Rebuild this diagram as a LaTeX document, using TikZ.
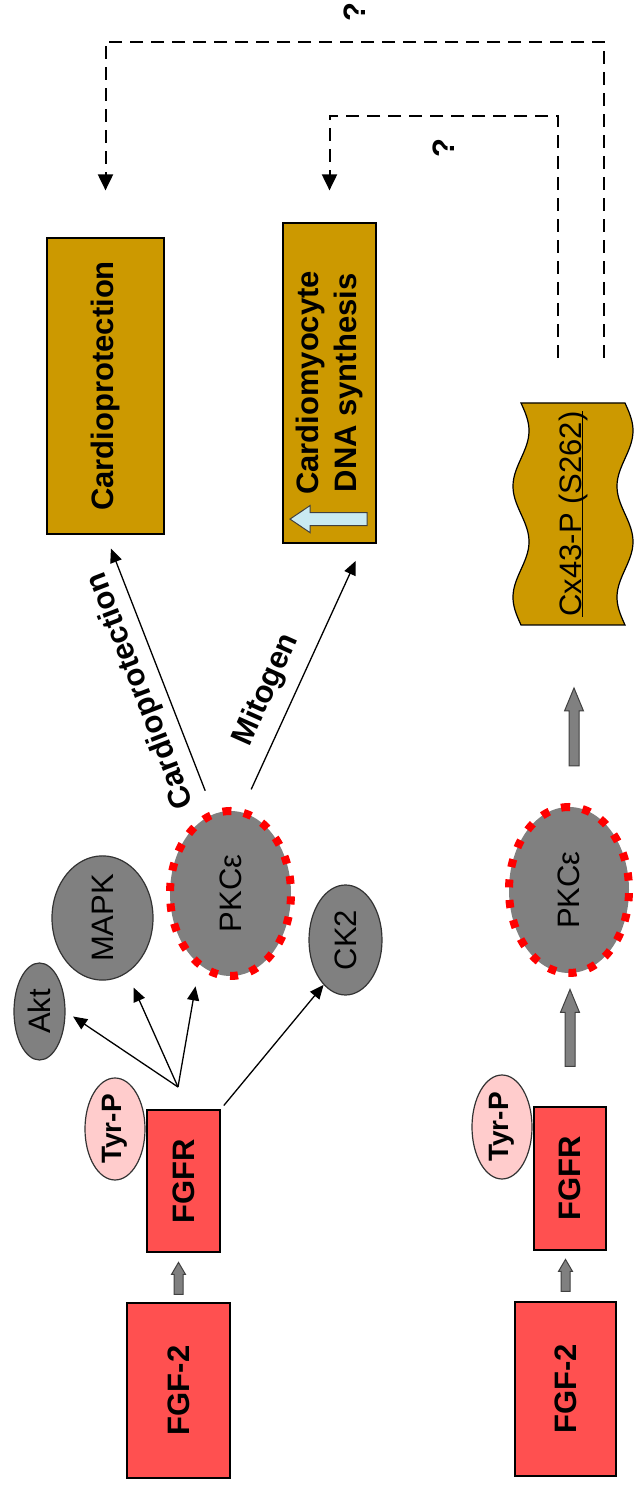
\documentclass[tikz,border=0pt]{standalone}
\usepackage{fontspec}
\setmainfont{Liberation Sans}
\usetikzlibrary{shapes.geometric,arrows.meta}

\definecolor{fgfred}{HTML}{FF5050}
\definecolor{gold}{HTML}{CC9900}
\definecolor{tyrpink}{HTML}{FFCCCC}
\definecolor{kgrey}{HTML}{808080}
\definecolor{upblue}{HTML}{C9EAF2}

\newcommand\bigrm{\fontsize{31}{38}\selectfont}
\newcommand\bigbf{\fontsize{31}{38}\selectfont\bfseries}

\tikzset{
  redbox/.style={draw=black, line width=1.2pt, fill=fgfred, inner sep=0pt, font=\bigbf},
  goldbox/.style={draw=black, line width=1.2pt, fill=gold, inner sep=0pt, align=center, font=\bigbf},
  wave/.style={draw=black, line width=1.2pt, fill=gold},
  kinase/.style={ellipse, draw=black!80, line width=1.2pt, fill=kgrey, inner sep=0pt, font=\bigrm},
  pkc/.style={ellipse, fill=kgrey, draw=red, line width=8pt, dash pattern=on 8pt off 12.5pt, inner sep=0pt, font=\bigrm},
  tyr/.style={ellipse, draw=black!80, line width=1.2pt, fill=tyrpink, inner sep=0pt, font=\fontsize{28}{32}\selectfont\bfseries},
  link/.style={line width=1.3pt, -{Triangle[length=14pt,width=12pt]}},
  query/.style={line width=2pt, dash pattern=on 13pt off 8pt, -{Triangle[length=16pt,width=15pt]}},
  fat/.style={fill=kgrey, draw=black!75, line width=1pt},
  effect/.style={font=\bigbf, inner sep=2pt},
  qmark/.style={font=\bigbf, inner sep=2pt}
}

\begin{document}
\begin{tikzpicture}[x=1pt, y=-1pt, rotate=90, transform shape]
\def\fatarrow#1#2#3#4#5#6{
  \draw[#1] (#2) ++(0,-#4) -- ++(#3-#6,0) -- ++(0,#4-#5) -- ++(#6,#5) -- ++(-#6,#5) -- ++(0,#4-#5) -- ++(-#3+#6,0) -- cycle;
}

\useasboundingbox (0,0) rectangle (1489,633);

% upper row: FGF-2 to FGFR and its kinases

\node[tyr, minimum width=102pt, minimum height=60pt] (tyrA) at (360,115) {Tyr-P};
\node[redbox, minimum width=175pt, minimum height=103pt] (fgfA) at (98.5,178.5) {FGF-2};
\node[redbox, minimum width=142pt, minimum height=73pt] (fgfrA) at (308,183.5) {FGFR};

\node[kinase, minimum width=97pt, minimum height=51pt] (akt) at (477.5,39.5) {Akt};
\node[kinase, minimum width=110pt, minimum height=101pt] (mapk) at (571,102.5) {MAPK};
\node[pkc, minimum width=165pt, minimum height=121pt] (pkcA) at (595.5,230.5) {PKCε};
\node[kinase, minimum width=110pt, minimum height=73pt] (ck2) at (549,345.5) {CK2};

\node[goldbox, minimum width=296pt, minimum height=117pt] (cardio) at (1103,105.5) {Cardioprotection};
\node[goldbox, minimum width=320pt, minimum height=93pt] (dna) at (1106,329.5) {Cardiomyocyte\\DNA synthesis};
\draw[fat, fill=upblue] ([xshift=24.5pt,yshift=-37.5pt]dna.west) ++(-6.5,0) -- ++(0,-57) -- ++(-7,0) -- ++(13.5,-20) -- ++(13.5,20) -- ++(-7,0) -- ++(0,57) -- cycle;

\fatarrow{fat}{[xshift=8pt]fgfA.east}{32}{4.5}{7}{12}

\coordinate (fan) at (402,178);
\draw[link, shorten >=9pt] (fan) -- (akt.south);
\draw[link, shorten >=16pt] (fan) -- (mapk);
\draw[link, shorten >=18pt] (fan) -- (pkcA.157);
\draw[link, shorten <=5pt] (fgfrA.south east) -- (ck2.154);

\draw[link, shorten <=21pt, shorten >=15pt] (pkcA.12) -- (cardio.west)
  node[effect, pos=0.465, rotate=21, above=6pt] {Cardioprotection};
\draw[link, shorten <=21pt, shorten >=19pt] (pkcA.-8) -- (dna.192)
  node[effect, pos=0.406, rotate=-24, above=10pt] {Mitogen};

% lower row: FGF-2 to FGFR to PKC to Cx43

\node[tyr, minimum width=104pt, minimum height=60pt] (tyrB) at (362,502) {Tyr-P};
\node[redbox, minimum width=174pt, minimum height=101pt] (fgfB) at (100,565.5) {FGF-2};
\node[redbox, minimum width=143pt, minimum height=72pt] (fgfrB) at (310.5,570) {FGFR};
\node[pkc, minimum width=166pt, minimum height=120pt] (pkcB) at (599,569) {PKCε};

\draw[wave] plot[domain=0:222, samples=90] ({864+\x},{521-8*sin(\x/111*360)})
  -- plot[domain=222:0, samples=90] ({864+\x},{625-8*sin(\x/111*360)}) -- cycle;
\node[font=\bigrm, minimum width=222pt, minimum height=104pt] (cx) at (975,573) {\underline{\smash{Cx43-P (S262)}}\vphantom{(}};

\fatarrow{fat}{[xshift=10pt]fgfB.east}{32}{4.5}{7}{12}
\fatarrow{fat}{[xshift=40pt]fgfrB.east}{77}{5}{9.5}{23}
\fatarrow{fat}{[xshift=37pt,yshift=-5pt]pkcB.east}{78}{5}{9.5}{23}

% feedback from Cx43 (unknown)

\coordinate (qA) at (1131,604);
\coordinate (qB) at (1131,558);
\draw[query] (qA) -- ++(316,0) |- node[qmark, pos=0.25, right=17pt] {?} ([xshift=47pt]cardio.east);
\draw[query] (qB) -- ++(242,0) |- node[qmark, pos=0.25, left=20pt] {?} ([xshift=32pt]dna.east);

\end{tikzpicture}
\end{document}
